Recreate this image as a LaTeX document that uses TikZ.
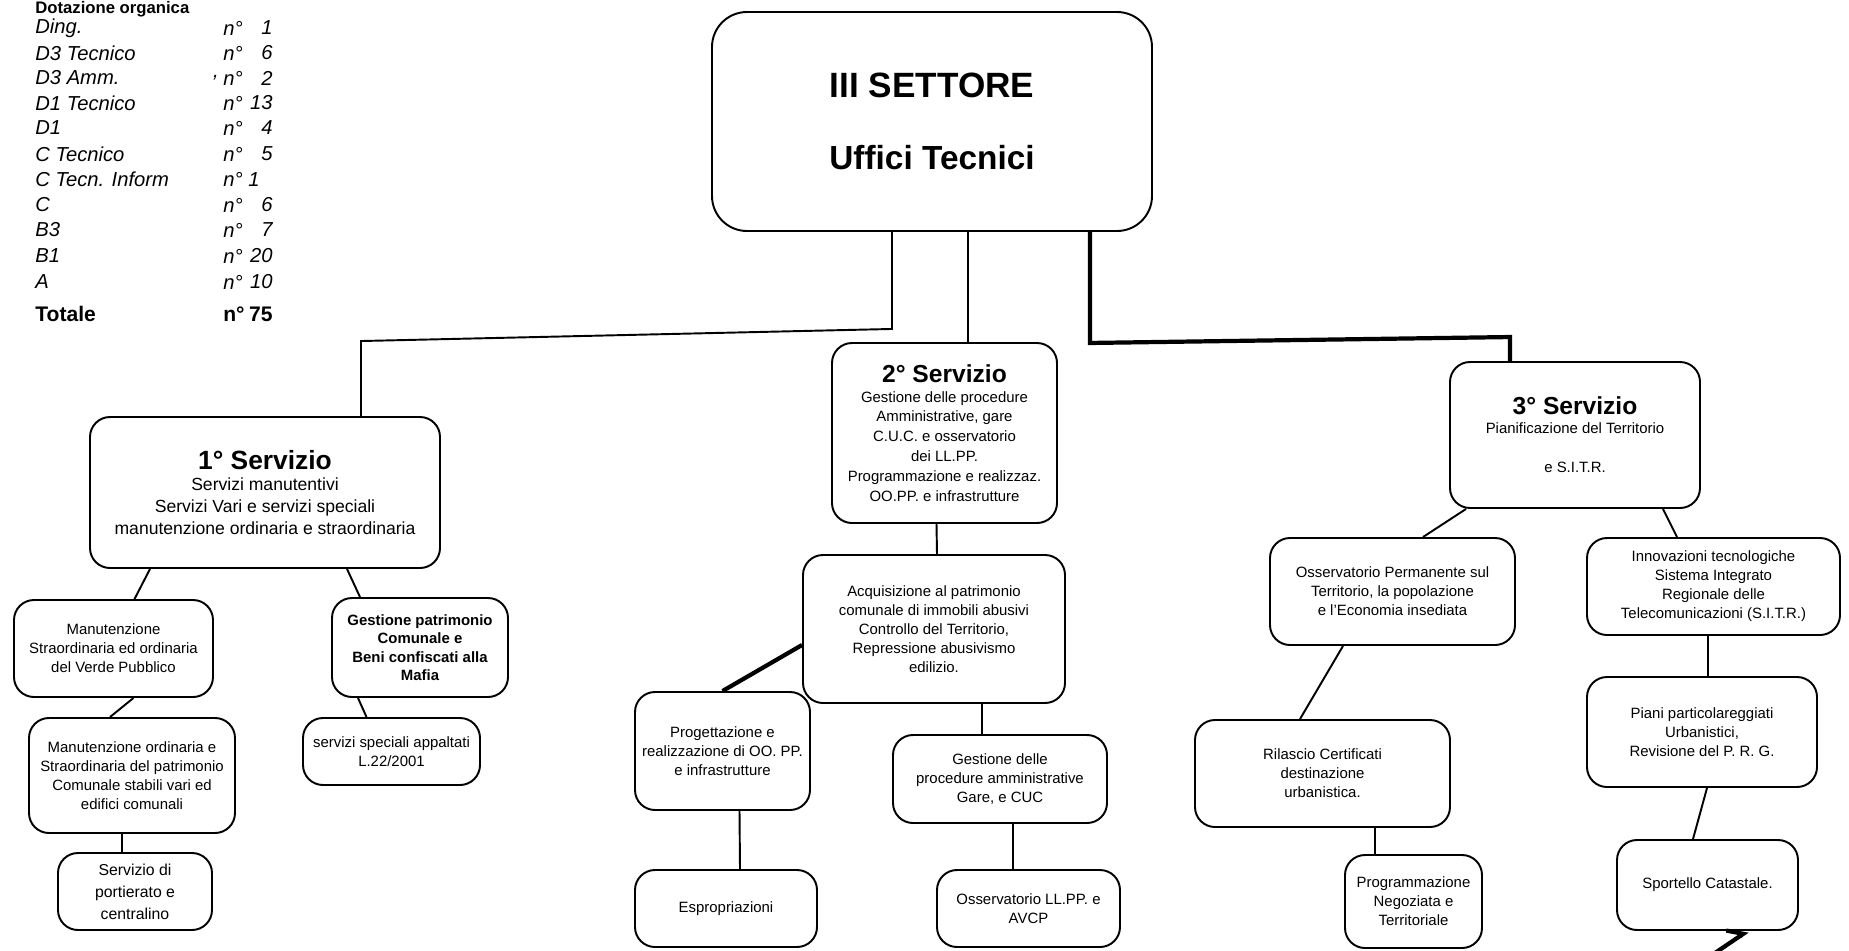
\documentclass[tikz,border=0pt]{standalone}
\usepackage{fontspec}
\setmainfont{Liberation Sans}
\usetikzlibrary{arrows.meta}
\newcommand{\mkbox}[7][]{\node[box,#1,minimum width={(#4-#2)*0.02cm},minimum height={(#5-#3)*0.02cm}] (#6) at ({(#2+#4)/2},{(#3+#5)/2}) {#7};}
\begin{document}
\begin{tikzpicture}[x=0.02cm,y=-0.02cm,
  box/.style={draw,line width=1.1pt,rounded corners=0.4cm,inner sep=2pt,align=center,font=\fontsize{8.5}{10.8}\selectfont},
  conn/.style={line width=1.1pt},
  heavy/.style={line width=2.4pt},
  leg/.style={anchor=west,inner sep=0pt,font=\fontsize{11.5}{14}\selectfont\itshape},
  legn/.style={anchor=east,inner sep=0pt,font=\fontsize{11.5}{14}\selectfont\itshape}
]
\useasboundingbox (0,0) rectangle (1849,950);
% heading
\node[anchor=base west,inner sep=0pt,font=\fontsize{9.5}{11}\selectfont\bfseries] (hdr) at (35,13) {Dotazione organica};
% legend
\node[leg] (l1) at (35,28) {Ding.};
\node[leg] (l2) at (35,53) {D3 Tecnico};
\node[leg] (l3) at (35,78) {D3 Amm.};
\node[leg] (l4) at (35,103) {D1 Tecnico};
\node[leg] (l5) at (35,128) {D1};
\node[leg] (l6) at (35,154) {C Tecnico};
\node[leg] (l7) at (35,179) {C Tecn. Inform};
\node[leg] (l8) at (35,205) {C};
\node[leg] (l9) at (35,230) {B3};
\node[leg] (l10) at (35,256) {B1};
\node[leg] (l11) at (35,282) {A};
\node[leg,font=\fontsize{12}{14}\selectfont\bfseries] (l12) at (35,314) {Totale};
\foreach \yy/\nn/\lab in {28/1/a,53/6/b,78/2/c,103/13/d,128/4/e,154/5/f,205/6/h,230/7/i,256/20/j,282/10/k}{
  \node[leg] (n\lab) at (223,\yy) {n°};
  \node[legn] (v\lab) at (273,\yy) {\nn};
}
\node[leg] (ng) at (223,179) {n° 1};
\node[legn] (comma) at (219,78) {,};
\node[leg,font=\fontsize{12}{14}\selectfont\bfseries] (nl) at (223,314) {n°};
\node[legn,font=\fontsize{12}{14}\selectfont\bfseries] (vl) at (273,314) {75};

% main box
\mkbox[rounded corners=0.7cm]{712}{12}{1152}{231}{III}{\fontsize{20}{24}\selectfont\bfseries III SETTORE\\[0.9cm]\fontsize{19}{22}\selectfont\bfseries Uffici Tecnici}

% services
\mkbox[font=\fontsize{10}{12.5}\selectfont]{90}{417}{440}{568}{m1}{{\fontsize{15}{17}\selectfont\bfseries 1° Servizio}\\Servizi manutentivi\\Servizi Vari e servizi speciali\\manutenzione ordinaria e straordinaria}
\mkbox[font=\fontsize{8.5}{11.3}\selectfont]{832}{343}{1057}{523}{m2}{{\fontsize{14}{17}\selectfont\bfseries 2° Servizio}\\Gestione delle procedure\\Amministrative, gare\\C.U.C. e osservatorio\\dei LL.PP.\\Programmazione e realizzaz.\\OO.PP. e infrastrutture}
\mkbox{1450}{362}{1700}{508}{m3}{{\fontsize{14}{17}\selectfont\bfseries 3° Servizio}\\Pianificazione del Territorio\\[0.4cm]e S.I.T.R.}

% 1st service offices
\mkbox{14}{600}{213}{697}{verde}{Manutenzione\\Straordinaria ed ordinaria\\del Verde Pubblico}
\mkbox{29}{718}{235}{833}{manpat}{Manutenzione ordinaria e\\Straordinaria del patrimonio\\Comunale stabili vari ed\\edifici comunali}
\mkbox[font=\fontsize{9}{12.5}\selectfont]{58}{853}{212}{930}{port}{Servizio di\\portierato e\\centralino}
\mkbox[font=\fontsize{8.5}{10.5}\selectfont\bfseries]{332}{598}{508}{697}{gespat}{Gestione patrimonio\\Comunale e\\Beni confiscati alla\\Mafia}
\mkbox{303}{718}{480}{785}{servsp}{servizi speciali appaltati\\L.22/2001}

% 2nd service offices
\mkbox{803}{555}{1065}{703}{acq}{Acquisizione al patrimonio\\comunale di immobili abusivi\\Controllo del Territorio,\\Repressione abusivismo\\edilizio.}
\mkbox{635}{692}{810}{810}{prog}{Progettazione e\\realizzazione di OO. PP.\\e infrastrutture}
\mkbox{635}{870}{817}{947}{espr}{Espropriazioni}
\mkbox{893}{735}{1107}{823}{gest}{Gestione delle\\procedure amministrative\\Gare, e CUC}
\mkbox{937}{870}{1120}{947}{ossll}{Osservatorio LL.PP. e\\AVCP}

% 3rd service offices
\mkbox{1270}{538}{1515}{645}{ossp}{Osservatorio Permanente sul\\Territorio, la popolazione\\e l'Economia insediata}
\mkbox{1195}{720}{1450}{827}{ril}{Rilascio Certificati\\destinazione\\urbanistica.}
\mkbox{1345}{855}{1482}{948}{proc}{Programmazione\\Negoziata e\\Territoriale}
\mkbox{1587}{538}{1840}{635}{innov}{Innovazioni tecnologiche\\Sistema Integrato\\Regionale delle\\Telecomunicazioni (S.I.T.R.)}
\mkbox{1587}{677}{1817}{787}{piani}{Piani particolareggiati\\Urbanistici,\\Revisione del P. R. G.}
\mkbox{1617}{840}{1798}{930}{sport}{Sportello Catastale.}

% connectors
\draw[conn] ([shift={(-40,0)}]III.south) -- ++(0,97) -- ([shift={(96,-75)}]m1.north) -- ([shift={(96,0)}]m1.north);
\draw[conn] ([shift={(36,0)}]III.south) -- ([shift={(23.5,0)}]m2.north);
\draw[heavy] ([shift={(158,0)}]III.south) -- ++(0,111) -- ([shift={(-65,-24)}]m3.north) -- ([shift={(-65,0)}]m3.north);
\draw[conn] ([shift={(-115,0)}]m1.south) -- ([shift={(21,0)}]verde.north);
\draw[conn] ([shift={(20,0)}]verde.south) -- ([shift={(-22,0)}]manpat.north);
\draw[conn] ([shift={(-10,0)}]manpat.south) -- ([shift={(-13,0)}]port.north);
\draw[conn] ([shift={(82,0)}]m1.south) -- ([shift={(-60,0)}]gespat.north);
\draw[conn] ([shift={(-62,0)}]gespat.south) -- ([shift={(-25,0)}]servsp.north);
\draw[conn] ([shift={(-8,0)}]m2.south) -- ([shift={(3,0)}]acq.north);
\draw[heavy] ([shift={(0,16)}]acq.west) -- (prog.north);
\draw[conn] ([shift={(17,0)}]prog.south) -- ([shift={(14,0)}]espr.north);
\draw[conn] ([shift={(48,0)}]acq.south) -- ([shift={(-18,0)}]gest.north);
\draw[conn] ([shift={(13,0)}]gest.south) -- ([shift={(-15.5,0)}]ossll.north);
\draw[conn] ([shift={(17,0)}]m3.south west) -- ([shift={(30.5,0)}]ossp.north);
\draw[conn] ([shift={(-49.5,0)}]ossp.south) -- ([shift={(-22.5,0)}]ril.north);
\draw[conn] ([shift={(52.5,0)}]ril.south) -- ([shift={(-38.5,0)}]proc.north);
\draw[conn] ([shift={(88,0)}]m3.south) -- ([shift={(-36.5,0)}]innov.north);
\draw[conn] ([shift={(-5.5,0)}]innov.south) -- ([shift={(6,0)}]piani.north);
\draw[conn] ([shift={(5,0)}]piani.south) -- ([shift={(-14.5,0)}]sport.north);
\coordinate (arrstart) at (1712,955);
\draw[heavy,-{Straight Barb[left,length=7pt]}] (arrstart) -- ([shift={(40,0)}]sport.south);
\end{tikzpicture}
\end{document}
